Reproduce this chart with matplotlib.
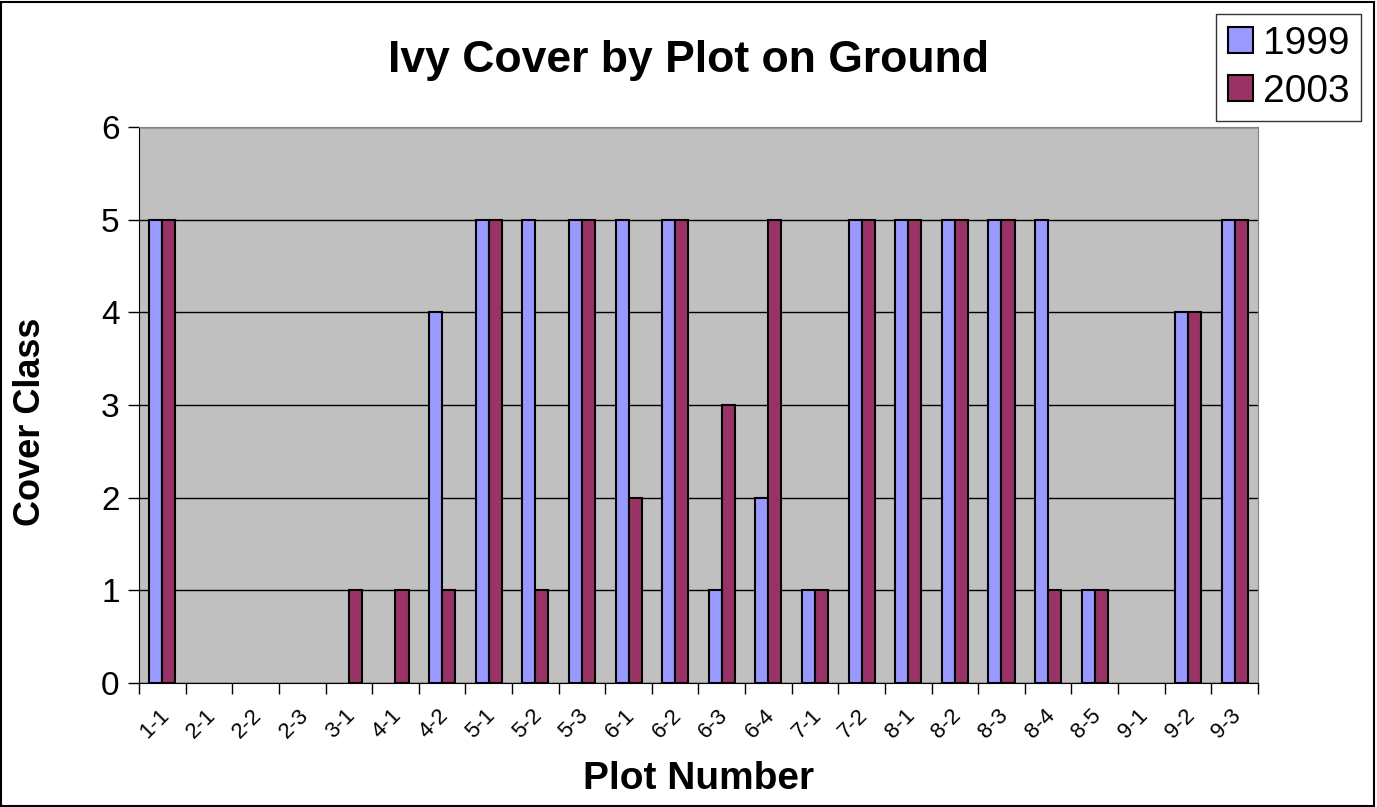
import numpy as np
import matplotlib.pyplot as plt
import matplotlib.transforms as mtransforms
from matplotlib.patches import Rectangle

plt.rcParams['font.family'] = ['Liberation Sans', 'DejaVu Sans']

# Plot labels and cover class values
plots = ["1-1", "2-1", "2-2", "2-3", "3-1", "4-1", "4-2", "5-1", "5-2", "5-3", "6-1", "6-2",
         "6-3", "6-4", "7-1", "7-2", "8-1", "8-2", "8-3", "8-4", "8-5", "9-1", "9-2", "9-3"]
cover_1999 = [5, 0, 0, 0, 0, 0, 4, 5, 5, 5, 5, 5, 1, 2, 1, 5, 5, 5, 5, 5, 1, 0, 4, 5]
cover_2003 = [5, 0, 0, 0, 1, 1, 1, 5, 1, 5, 2, 5, 3, 5, 1, 5, 5, 5, 5, 1, 1, 0, 4, 5]

fig = plt.figure(figsize=(13.77, 8.07), dpi=100)
ax = fig.add_axes([0.101, 0.1537, 0.8125, 0.689])
ax.set_facecolor("#C0C0C0")

x = np.arange(len(plots))
w = 0.28
# zero values get no outline so they don't show as flat lines
edges_99 = ["black" if v > 0 else "none" for v in cover_1999]
edges_03 = ["black" if v > 0 else "none" for v in cover_2003]
ax.bar(x - w / 2, cover_1999, w, color="#9999FF", edgecolor=edges_99, linewidth=1.5,
       label="1999", zorder=3)
ax.bar(x + w / 2, cover_2003, w, color="#993366", edgecolor=edges_03, linewidth=1.5,
       label="2003", zorder=3)

ax.set_xlim(-0.5, len(plots) - 0.5)
ax.set_ylim(0, 6)
ax.set_yticks(range(7))
ax.tick_params(axis="y", labelsize=24, length=8, width=1, direction="out", pad=6)
ax.yaxis.grid(True, color="black", linewidth=1, zorder=1)

# ticks on category boundaries, labels at the centres
ax.set_xticks(np.arange(len(plots) + 1) - 0.5)
ax.set_xticklabels([])
ax.set_xticks(x, minor=True)
ax.set_xticklabels(plots, minor=True, rotation=45, fontsize=16)
ax.tick_params(axis="x", which="major", length=8, width=1)
ax.tick_params(axis="x", which="minor", length=0, pad=16)
shift = mtransforms.ScaledTranslation(-8 / 100, 0, fig.dpi_scale_trans)
for lbl in ax.get_xticklabels(minor=True):
    lbl.set_transform(lbl.get_transform() + shift)

for s in ["top", "right"]:
    ax.spines[s].set_color("#808080")
for s in ["left", "bottom"]:
    ax.spines[s].set_color("black")

ax.set_xlabel("Plot Number", fontsize=28, fontweight="bold")
ax.xaxis.set_label_coords(0.5, -0.14)
ax.set_ylabel("Cover Class", fontsize=26, fontweight="bold")
ax.yaxis.set_label_coords(-0.081, 0.47)
fig.text(0.5, 0.925, "Ivy Cover by Plot on Ground", ha="center", va="center",
         fontsize=32, fontweight="bold")

leg = fig.legend(loc="upper right", bbox_to_anchor=(0.994, 0.992), fontsize=28,
                 frameon=True, fancybox=False, edgecolor="black", handlelength=0.65,
                 handleheight=0.65, handletextpad=0.25, borderpad=0.3, labelspacing=0.3,
                 borderaxespad=0.2)
leg.get_frame().set_linewidth(1)

fig.patches.append(Rectangle((0.001, 0.001), 0.997, 0.997, transform=fig.transFigure,
                             fill=False, edgecolor="black", linewidth=1.5))

fig.savefig("out.png", dpi=100)
